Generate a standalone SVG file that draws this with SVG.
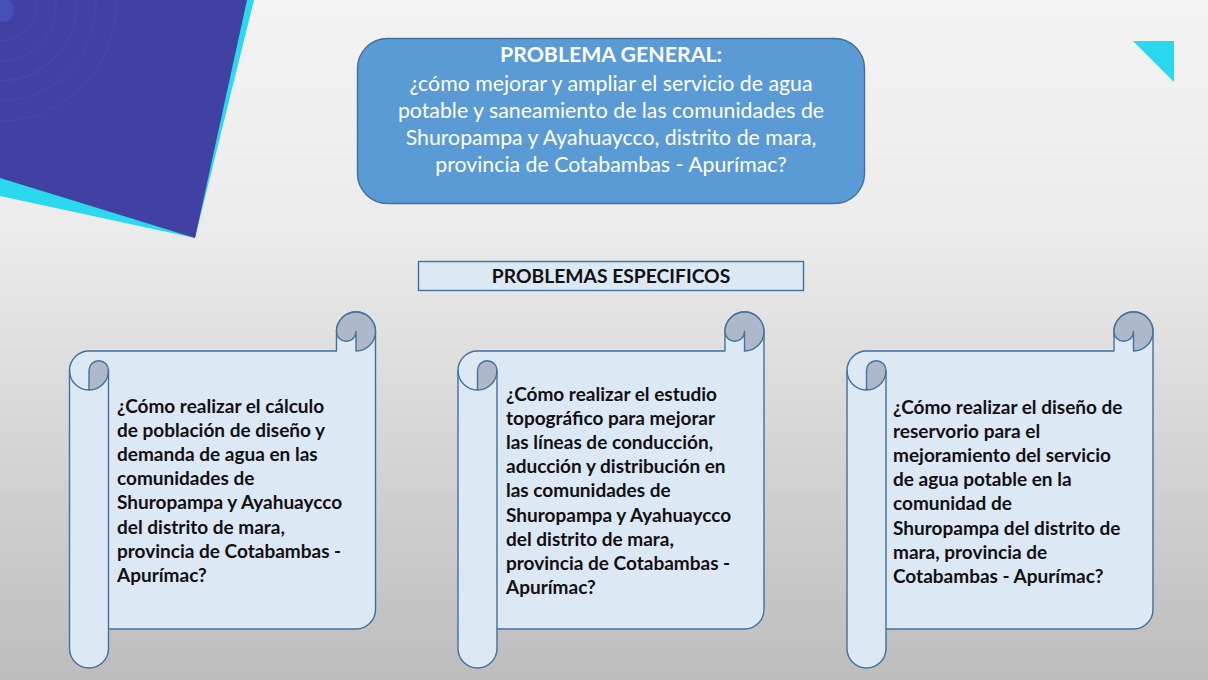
<svg xmlns="http://www.w3.org/2000/svg" width="1208" height="680" viewBox="0 0 1208 680">
  <defs>
    <linearGradient id="bg" x1="0" y1="0" x2="0" y2="1">
      <stop offset="0" stop-color="#f3f3f3"/>
      <stop offset="0.33" stop-color="#ececec"/>
      <stop offset="1" stop-color="#bdbdbd"/>
    </linearGradient>
    <style>
      .scroll{fill:#dde8f5;stroke:#41719c;stroke-width:1.4;stroke-linejoin:round}
      .curl{fill:#adb9ca;stroke:#41719c;stroke-width:1.4;stroke-linejoin:round}
      .ln{fill:none;stroke:#41719c;stroke-width:1.4}
      .st{font-family:Lato,"Liberation Sans",sans-serif;font-weight:bold;font-size:19px;fill:#111}
      .gt{font-family:Lato,"Liberation Sans",sans-serif;font-size:21.3px;fill:#fff;text-anchor:middle}
      .ring{fill:none;stroke:#5656b0;stroke-opacity:0.4;stroke-width:1.1}
    </style>
    <g id="scrollShape">
      <path class="scroll" d="M19.5,356 A19.5,19.5 0 0 1 0,336.5 L0,58.5 A19.5,19.5 0 0 1 19.5,39 L267,39 L267,19.5 A19.5,19.5 0 0 1 306,19.5 L306,297.5 A19.5,19.5 0 0 1 286.5,317 L39,317 L39,336.5 A19.5,19.5 0 0 1 19.5,356 Z"/>
      <path class="curl" d="M19.5,58.5 A9.75,9.75 0 0 1 39,58.5 A19.5,19.5 0 0 1 19.5,78 Z"/>
      <path class="ln" d="M0,58.5 A19.5,19.5 0 0 0 19.5,78 M39,58.5 L39,317"/>
      <path class="curl" d="M267,19.5 A19.5,19.5 0 0 1 306,19.5 A19.5,19.5 0 0 1 286.5,39 L286.5,19.5 A9.75,9.75 0 0 1 267,19.5 Z"/>
    </g>
  </defs>

  <rect x="0" y="0" width="1208" height="680" fill="url(#bg)"/>

  <g id="decor">
    <polygon points="0,0 254,0 195,238 0,196" fill="#2bd9ef"/>
    <polygon points="0,0 247,0 195,238 0,178" fill="#4141a3"/>
    <circle cx="2" cy="10" r="12" fill="#4650b6"/>
    <circle class="ring" cx="0" cy="5" r="36"/>
    <circle class="ring" cx="0" cy="5" r="56"/>
    <circle class="ring" cx="0" cy="5" r="76"/>
    <circle class="ring" cx="0" cy="5" r="96"/>
    <circle class="ring" cx="0" cy="5" r="116"/>
    <polygon points="1133,41 1174,41 1174,82" fill="#2bd9ef"/>
  </g>

  <g id="general">
    <rect x="357.5" y="38.5" width="507" height="165" rx="30" ry="30" fill="#5b9bd5" stroke="#41719c" stroke-width="1.4"/>
    <text class="gt" x="611" y="62" font-weight="bold" font-size="22.8">PROBLEMA GENERAL:</text>
    <text class="gt" x="611" y="91">¿cómo mejorar y ampliar el servicio de agua</text>
    <text class="gt" x="611" y="118">potable y saneamiento de las comunidades de</text>
    <text class="gt" x="611" y="145">Shuropampa y Ayahuaycco, distrito de mara,</text>
    <text class="gt" x="611" y="172">provincia de Cotabambas - Apurímac?</text>
  </g>

  <g id="especificos">
    <rect x="418.5" y="261.5" width="385" height="29" fill="#dde8f5" stroke="#41719c" stroke-width="1.4"/>
    <text x="611" y="283" text-anchor="middle" font-family="Lato, 'Liberation Sans', sans-serif" font-weight="bold" font-size="19.3" fill="#111">PROBLEMAS ESPECIFICOS</text>
  </g>

  <g id="scroll1" transform="translate(69.5,312)">
    <use href="#scrollShape"/>
    <text class="st">
      <tspan x="47.5" y="100.5">¿Cómo realizar el cálculo</tspan>
      <tspan x="47.5" y="124.7">de población de diseño y</tspan>
      <tspan x="47.5" y="148.9">demanda de agua en las</tspan>
      <tspan x="47.5" y="173.1">comunidades de</tspan>
      <tspan x="47.5" y="197.3">Shuropampa y Ayahuaycco</tspan>
      <tspan x="47.5" y="221.5">del distrito de mara,</tspan>
      <tspan x="47.5" y="245.7">provincia de Cotabambas -</tspan>
      <tspan x="47.5" y="269.9">Apurímac?</tspan>
    </text>
  </g>

  <g id="scroll2" transform="translate(458,312)">
    <use href="#scrollShape"/>
    <text class="st">
      <tspan x="48" y="88.5">¿Cómo realizar el estudio</tspan>
      <tspan x="48" y="112.7">topográfico para mejorar</tspan>
      <tspan x="48" y="136.9">las líneas de conducción,</tspan>
      <tspan x="48" y="161.1">aducción y distribución en</tspan>
      <tspan x="48" y="185.3">las comunidades de</tspan>
      <tspan x="48" y="209.5">Shuropampa y Ayahuaycco</tspan>
      <tspan x="48" y="233.7">del distrito de mara,</tspan>
      <tspan x="48" y="257.9">provincia de Cotabambas -</tspan>
      <tspan x="48" y="282.1">Apurímac?</tspan>
    </text>
  </g>

  <g id="scroll3" transform="translate(847,312)">
    <use href="#scrollShape"/>
    <text class="st">
      <tspan x="46" y="101.5">¿Cómo realizar el diseño de</tspan>
      <tspan x="46" y="125.7">reservorio para el</tspan>
      <tspan x="46" y="149.9">mejoramiento del servicio</tspan>
      <tspan x="46" y="174.1">de agua potable en la</tspan>
      <tspan x="46" y="198.3">comunidad de</tspan>
      <tspan x="46" y="222.5">Shuropampa del distrito de</tspan>
      <tspan x="46" y="246.7">mara, provincia de</tspan>
      <tspan x="46" y="270.9">Cotabambas - Apurímac?</tspan>
    </text>
  </g>
</svg>
